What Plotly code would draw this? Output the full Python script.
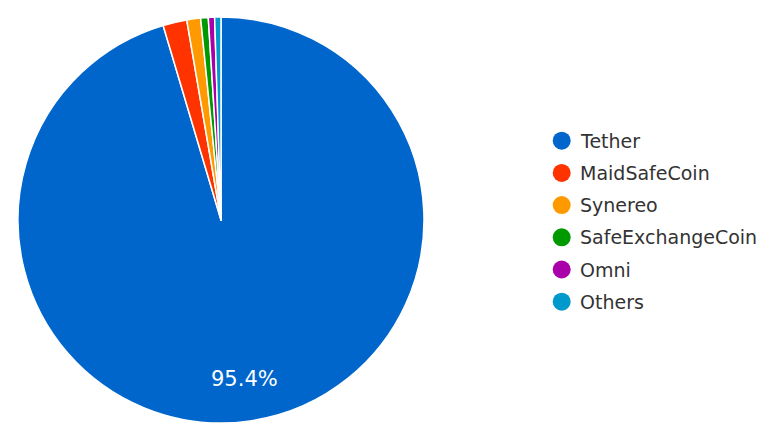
import math
import plotly.graph_objects as go

W, H = 775, 442

coins = ["Tether", "MaidSafeCoin", "Synereo", "SafeExchangeCoin", "Omni", "Others"]
shares = [95.4, 1.9, 1.1, 0.6, 0.5, 0.5]
colors = ["#0066CC", "#FF3300", "#FF9900", "#009900", "#AA00AA", "#0099CC"]
label_text = "95.4%"  # only the Tether slice carries a label

# pie geometry (pixels)
cx, cy, R = 221, 220, 203

fig = go.Figure()
fig.add_trace(go.Pie(
    labels=coins,
    values=shares,
    sort=False,
    direction="clockwise",
    rotation=0,
    marker=dict(colors=colors, line=dict(color="white", width=1.5)),
    textinfo="none",
    domain=dict(x=[(cx - R) / W, (cx + R) / W], y=[(H - cy - R) / H, (H - cy + R) / H]),
    showlegend=False,
    hoverinfo="label+percent",
))

# data label for the Tether slice, placed along its mid-angle
total = sum(shares)
mid = 0.5 * shares[0] / total * 2 * math.pi
lx = cx + 0.79 * R * math.sin(mid)
ly = cy + 0.79 * R * -math.cos(mid)

annotations = [dict(
    text=label_text, xref="paper", yref="paper",
    x=lx / W, y=1 - ly / H, xanchor="center", yanchor="middle",
    showarrow=False, font=dict(family="DejaVu Sans", size=21, color="white"),
)]

# Manual legend with circular markers
leg_x_circle = 561.7
leg_x_text = 577.5
leg_y0 = 140.7
leg_step = 32.2
shapes = []
for i, (name, col) in enumerate(zip(coins, colors)):
    py = leg_y0 + i * leg_step
    shapes.append(dict(
        type="circle", xref="paper", yref="paper",
        xsizemode="pixel", ysizemode="pixel",
        xanchor=leg_x_circle / W, yanchor=1 - py / H,
        x0=-9, x1=9, y0=-9, y1=9,
        fillcolor=col, line=dict(width=0),
    ))
    annotations.append(dict(
        text=name, xref="paper", yref="paper",
        x=leg_x_text / W, y=1 - py / H,
        xanchor="left", yanchor="middle", showarrow=False,
        font=dict(family="DejaVu Sans", size=19, color="#333333"),
    ))

fig.update_layout(
    width=W, height=H,
    margin=dict(l=0, r=0, t=0, b=0),
    paper_bgcolor="white",
    plot_bgcolor="white",
    shapes=shapes,
    annotations=annotations,
    showlegend=False,
)

fig.write_html(
    "out.html",
    config={"displayModeBar": False},
    post_script="document.body.style.margin='0';document.body.style.overflow='hidden';",
)
